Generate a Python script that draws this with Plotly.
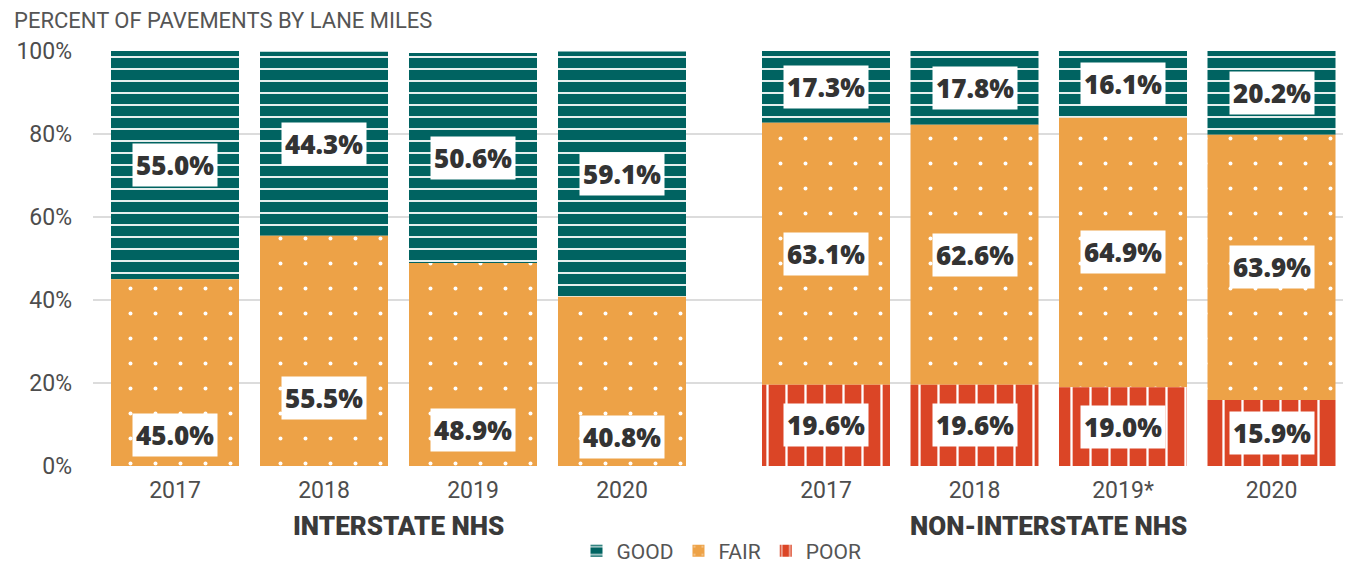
import plotly.graph_objects as go

# ---- data ----
years_inter = ["2017", "2018", "2019", "2020"]
years_non = ["2017", "2018", "2019*", "2020"]
inter_good = [55.0, 44.3, 50.6, 59.1]
inter_fair = [45.0, 55.5, 48.9, 40.8]
non_poor = [19.6, 19.6, 19.0, 15.9]
non_fair = [63.1, 62.6, 64.9, 63.9]
non_good = [17.3, 17.8, 16.1, 20.2]
inter_fair_label_y = [7.5, 16.4, 8.7, 7.0]  # label placement

# ---- style ----
GOOD = "#006361"
FAIR = "#EDA247"
POOR = "#DB4526"
TXT = "#333333"
TICK = "#4d4d4d"

OFF = 8  # page body margin
W, H = 1351 - OFF, 563 - OFF
L, R, T, B = 93 - OFF, 1, 51 - OFF, 97
PH = H - T - B  # 415
step = 149
bw = 128
x_inter = [175 + i * step for i in range(4)]
x_non = [826 + i * 148.5 for i in range(4)]

fig = go.Figure()

pat_good = dict(shape="-", fgcolor="white", bgcolor=GOOD, size=12, solidity=0.15, fillmode="replace")
pat_fair = dict(shape=".", fgcolor="white", bgcolor=FAIR, size=25, solidity=0.02, fillmode="replace")
pat_poor = dict(shape="|", fgcolor="white", bgcolor=POOR, size=19, solidity=0.12, fillmode="replace")

xs = x_inter + x_non
poor_all = [0] * 4 + non_poor
fair_all = inter_fair + non_fair
good_all = inter_good + non_good

fig.add_trace(go.Bar(x=xs, y=good_all, base=[p + f for p, f in zip(poor_all, fair_all)], width=bw,
                     name="GOOD", marker=dict(color=GOOD, line=dict(width=0), pattern=pat_good),
                     hoverinfo="skip"))
fig.add_trace(go.Bar(x=xs, y=fair_all, base=poor_all, width=bw,
                     name="FAIR", marker=dict(color=FAIR, line=dict(width=0), pattern=pat_fair),
                     hoverinfo="skip"))
fig.add_trace(go.Bar(x=x_non, y=non_poor, width=bw,
                     name="POOR", marker=dict(color=POOR, line=dict(width=0), pattern=pat_poor),
                     hoverinfo="skip"))

ann = []
def lab(x, y, v):
    ann.append(dict(x=x, y=y, xref="x", yref="y", text=f"{v:.1f}%", showarrow=False,
                    bgcolor="white", borderpad=3,
                    font=dict(family="Open Sans", size=26, color=TXT, weight=800)))

for i in range(4):
    lab(x_inter[i], inter_fair[i] + inter_good[i] / 2, inter_good[i])
    lab(x_inter[i], inter_fair_label_y[i], inter_fair[i])
    lab(x_non[i], non_poor[i] / 2, non_poor[i])
    lab(x_non[i], non_poor[i] + non_fair[i] / 2, non_fair[i])
    lab(x_non[i], non_poor[i] + non_fair[i] + non_good[i] / 2, non_good[i])

for txt, xc in [("INTERSTATE NHS", sum(x_inter) / 4), ("NON-INTERSTATE NHS", sum(x_non) / 4)]:
    ann.append(dict(x=xc, y=-60 / PH, xref="x", yref="paper", text=txt, showarrow=False,
                    yanchor="middle",
                    font=dict(family="Roboto", size=26, color="#3a3a3a", weight=900)))

fig.update_layout(
    width=W, height=H,
    margin=dict(l=L, r=R, t=T, b=B),
    paper_bgcolor="white", plot_bgcolor="white",
    barmode="overlay",
    title=dict(text="PERCENT OF PAVEMENTS BY LANE MILES", xref="container", yref="container",
               x=(14 - OFF) / W, xanchor="left", y=1 - (20 - OFF) / H, yanchor="middle",
               font=dict(family="Roboto", size=22, color="#555555")),
    showlegend=True,
    legend=dict(orientation="h", x=0.5, xanchor="center", yref="container",
                y=(H - (551 - OFF)) / H, yanchor="middle",
                font=dict(family="Roboto", size=21, color="#555555"), itemwidth=30,
                traceorder="normal"),
    annotations=ann,
    xaxis=dict(range=[93, 1350], tickvals=xs, ticktext=years_inter + years_non,
               showgrid=False, zeroline=False, showline=False, ticks="",
               tickfont=dict(family="Roboto", size=23, color=TICK), ticklabelstandoff=8),
    yaxis=dict(range=[0, 100], tickvals=[0, 20, 40, 60, 80, 100],
               ticktext=["0%", "20%", "40%", "60%", "80%", "100%"],
               showgrid=True, gridcolor="#dcdcdc", gridwidth=2, zeroline=False,
               tickfont=dict(family="Roboto", size=23, color=TICK), ticklabelstandoff=20),
)

fig.write_html("out.html")
